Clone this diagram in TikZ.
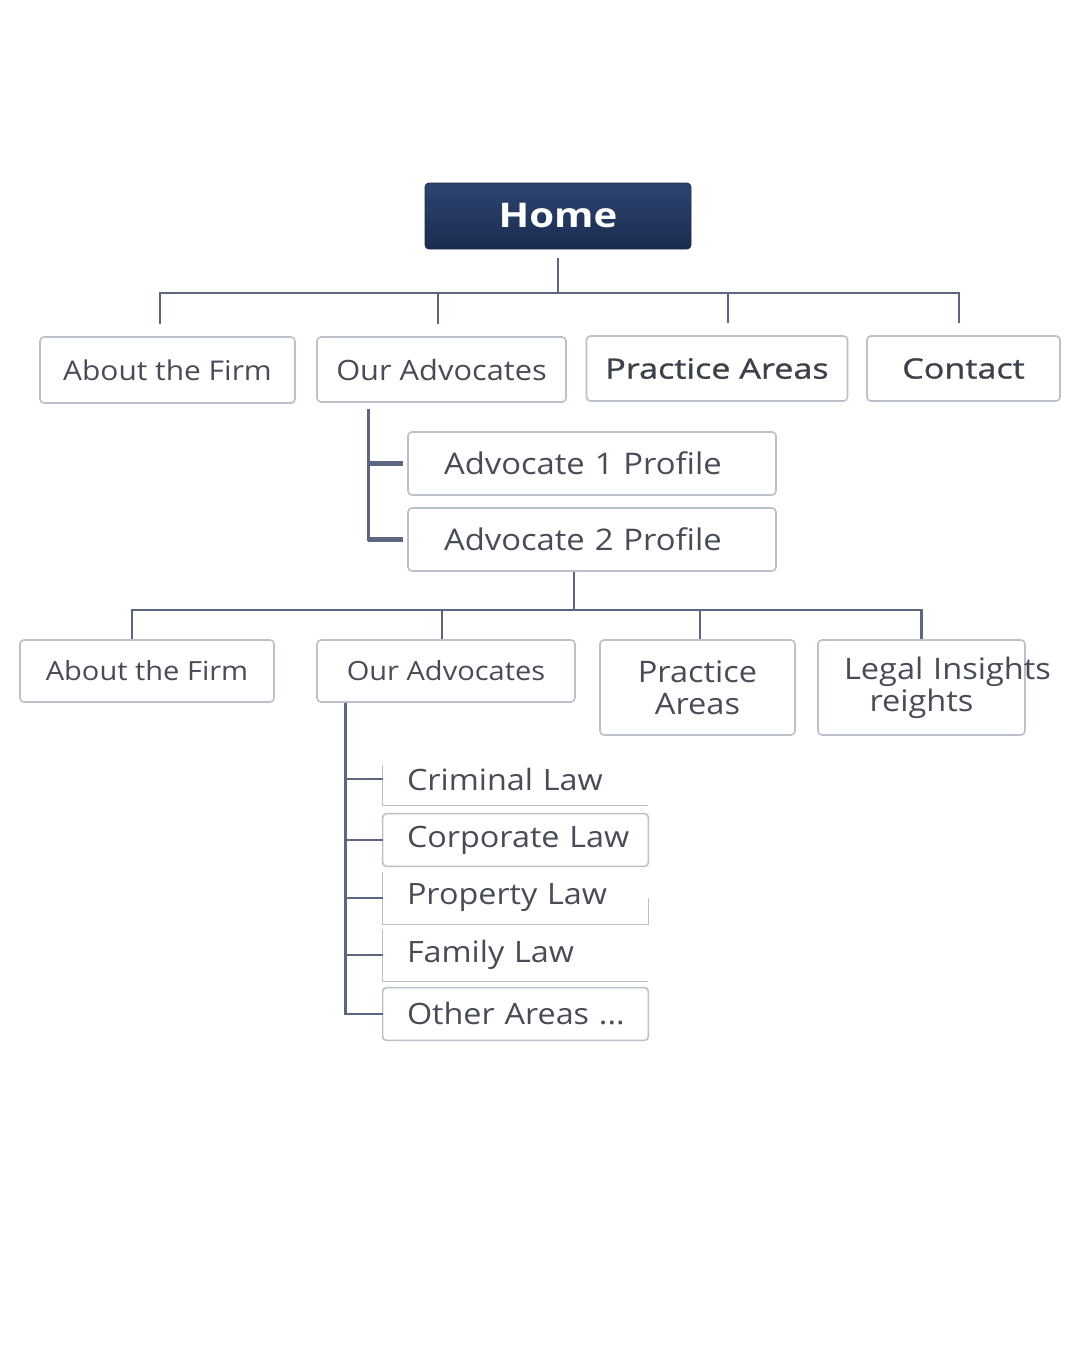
\documentclass[tikz,border=0pt]{standalone}
\usepackage{fontspec}
\setmainfont[FakeStretch=1.1]{Open Sans}
\newfontfamily\homefont[FakeStretch=1.18]{Open Sans}
\newfontfamily\semifont[FakeStretch=1.22, FakeBold=1]{Open Sans}
\definecolor{navytop}{HTML}{2D4470}
\definecolor{navybot}{HTML}{1B2B50}
\definecolor{linkc}{HTML}{5B6780}
\definecolor{framec}{HTML}{BCC0CA}
\definecolor{textc}{HTML}{474C57}
\tikzset{
  box/.style={draw=framec, line width=0.8pt, rounded corners=2pt, fill=white,
    text=textc, font=\fontsize{13.5}{16}\selectfont, align=center},
  profile/.style={box, align=left, inner xsep=18pt, text width=148pt,
    minimum height=31.5pt, font=\fontsize{14.9}{17}\selectfont},
  leaf/.style={text=textc, font=\fontsize{14.7}{17}\selectfont, align=left,
    inner xsep=12pt, text width=108.5pt, minimum height=26pt},
  frame/.style={draw=framec, line width=0.8pt},
  link/.style={draw=linkc, line width=1.3pt},
}
\begin{document}
\begin{tikzpicture}[x=0.5pt,y=-0.5pt]
                \useasboundingbox[fill=white] (0,0) rectangle (1080,1350);

                % Inicio
                \node[draw=navybot, rounded corners=2pt, top color=navytop, bottom color=navybot,
                  text=white, minimum width=133pt, minimum height=33pt,
                  font=\homefont\bfseries\fontsize{17}{20}\selectfont] (home) at (558,216) {Home};

                % Primer nivel
                \node[box, minimum width=127.5pt, minimum height=33pt, font=\fontsize{13.6}{16}\selectfont] (about1) at (167.5,370) {About the Firm};
                \node[box, minimum width=124.5pt, minimum height=32.5pt, font=\fontsize{14}{16}\selectfont] (our1) at (441.5,369.5) {Our Advocates};
                \node[box, minimum width=130.5pt, minimum height=32.5pt, font=\semifont\fontsize{14}{16}\selectfont, text=textc!85!black] (prac1) at (717,368.5) {Practice Areas};
                \node[box, minimum width=96.5pt, minimum height=32.5pt, font=\semifont\fontsize{14}{16}\selectfont, text=textc!85!black] (contact) at (963.5,368.5) {Contact};

                \coordinate (j1) at (558,293);
                \draw[link, shorten <=4.5pt] (home.south) -- (j1);
                \foreach \n/\s in {about1/-3.75pt, our1/-1.75pt, prac1/5.5pt, contact/-2.25pt}
                    \draw[link, shorten >=6pt] (j1) -| ([xshift=\s]\n.north);

                % Perfiles
                \node[profile] (adv1) at (592,463.5) {Advocate 1 Profile};
                \node[profile] (adv2) at (592,539.5) {Advocate 2 Profile};

                \coordinate (s1) at ([xshift=26pt, yshift=-3pt]our1.south west);
                \draw[link] (s1) |- ([xshift=-2pt]adv2.west);
                \draw[link] (s1) |- ([xshift=-2pt]adv1.west);
                \draw[link, line width=2.2pt] (s1 |- adv1.west) -- ([xshift=-2pt]adv1.west);
                \draw[link, line width=2.2pt] (s1 |- adv2.west) -- ([xshift=-2pt]adv2.west);

                % Segundo nivel
                \node[box, minimum width=127pt, minimum height=31pt, font=\fontsize{13.2}{16}\selectfont] (about3) at (147,671) {About the Firm};
                \node[box, minimum width=129pt, minimum height=31pt, font=\fontsize{13.2}{16}\selectfont] (our3) at (446,671) {Our Advocates};
                \node[box, minimum width=97.5pt, minimum height=47.5pt, font=\fontsize{14.8}{16}\selectfont] (prac3) at (697.5,687.5) {Practice\\Areas};
                \node[box, minimum width=103.5pt, minimum height=47.5pt, text width=93.5pt, inner xsep=5pt,
                  font=\fontsize{14.8}{16}\selectfont] (legal) at (921.5,687.5) {\hspace*{8pt}\mbox{Legal Insights}\\reights};

                \coordinate (j2) at (574,610);
                \draw[link] ([xshift=-9pt]adv2.south) -- (j2);
                \foreach \n/\s in {about3/-7.5pt, our3/-2pt, prac3/1.25pt, legal/0pt}
                    \draw[link] (j2) -| ([xshift=\s]\n.north);

                % Areas de practica
                \node[leaf] (crim) at (515.5,779) {\mbox{Criminal Law}};
                \node[leaf] (corp) at (515.5,840) {\mbox{Corporate Law}};
                \node[leaf] (prop) at (515.5,898) {\mbox{Property Law}};
                \node[leaf] (fam) at (515.5,955) {\mbox{Family Law}};
                \node[leaf] (oth) at (515.5,1014) {\mbox{Other Areas ...}};

                \draw[frame] ([yshift=-6pt]crim.north west) -- (crim.south west) -- (crim.south east);
                \draw[frame, rounded corners=2pt] (corp.north west) rectangle (corp.south east);
                \draw[frame] (prop.north west) -- (prop.south west) -- (prop.south east) -- (prop.east);
                \draw[frame] (fam.north west) -- (fam.south west) -- (fam.south east);
                \draw[frame, rounded corners=2pt] (oth.north west) rectangle (oth.south east);

                \coordinate (s2) at ([xshift=14.5pt]our3.south west);
                \foreach \n in {crim, corp, prop, fam, oth}
                    \draw[link] (s2) |- (\n.west);

            \end{tikzpicture}
\end{document}
